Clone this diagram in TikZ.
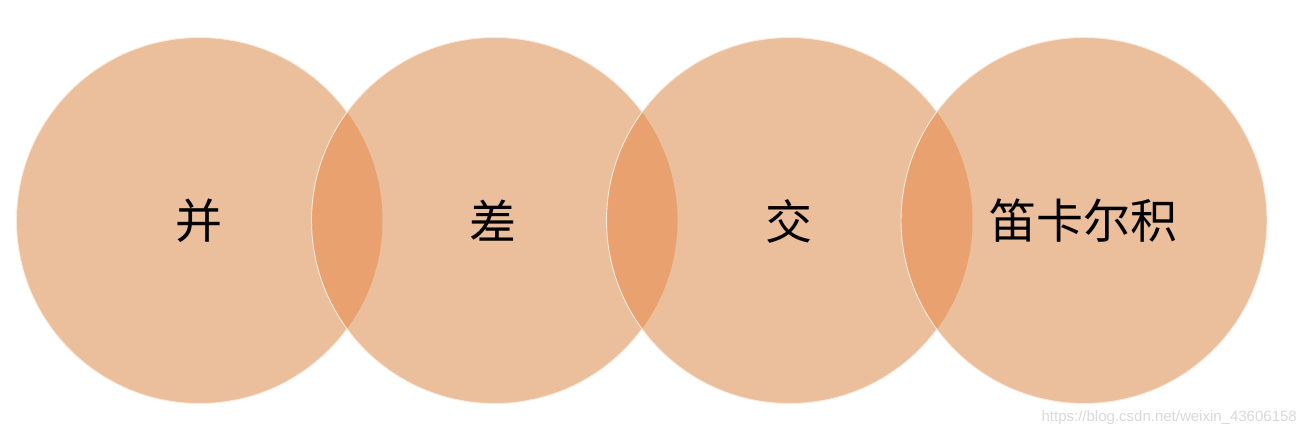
\documentclass[tikz,border=0pt]{standalone}
\usepackage{fontspec}
\newfontfamily\cjk{Noto Sans CJK SC}
\newfontfamily\wmfont{Liberation Sans}
\definecolor{single}{HTML}{EBBE9C}
\definecolor{double}{HTML}{E8A16F}
\definecolor{rim}{HTML}{FBEBDD}
\definecolor{wm}{HTML}{D9D9D9}
\tikzset{
  setfill/.style={fill=single},
  lensfill/.style={fill=double},
  rimline/.style={draw=rim, line width=0.9pt},
  label/.style={font=\cjk\fontsize{47}{47}\selectfont, text=black, inner sep=0pt, anchor=center},
  watermark/.style={font=\wmfont\fontsize{15}{15}\selectfont, text=wm, inner sep=0pt, anchor=base east}
}
\begin{document}
\begin{tikzpicture}[x=1pt,y=-1pt]
\useasboundingbox (0,0) rectangle (1304,434);
\def\R{183}
% circle 1
\fill[setfill] (199.5,220.5) circle (\R);
\draw[rimline] (199.5,220.5) circle (\R);
% circle 2
\fill[setfill] (494.5,220.5) circle (\R);
\begin{scope}
  \clip (199.5,220.5) circle (\R);
  \fill[lensfill] (494.5,220.5) circle (\R);
\end{scope}
\draw[rimline] (494.5,220.5) circle (\R);
% circle 3
\fill[setfill] (789.5,220.5) circle (\R);
\begin{scope}
  \clip (494.5,220.5) circle (\R);
  \fill[lensfill] (789.5,220.5) circle (\R);
\end{scope}
\draw[rimline] (789.5,220.5) circle (\R);
% circle 4
\fill[setfill] (1084,220.5) circle (\R);
\begin{scope}
  \clip (789.5,220.5) circle (\R);
  \fill[lensfill] (1084,220.5) circle (\R);
\end{scope}
\draw[rimline] (1084,220.5) circle (\R);
% labels
\node[label] (union) at (199,221) {并};
\node[label] (diff) at (493,221) {差};
\node[label] (inter) at (789,221) {交};
\node[label] (cart) at (1083,221) {笛卡尔积};
\node[watermark] (wmark) at (1297,421) {https://blog.csdn.net/weixin\_43606158};
\end{tikzpicture}
\end{document}
